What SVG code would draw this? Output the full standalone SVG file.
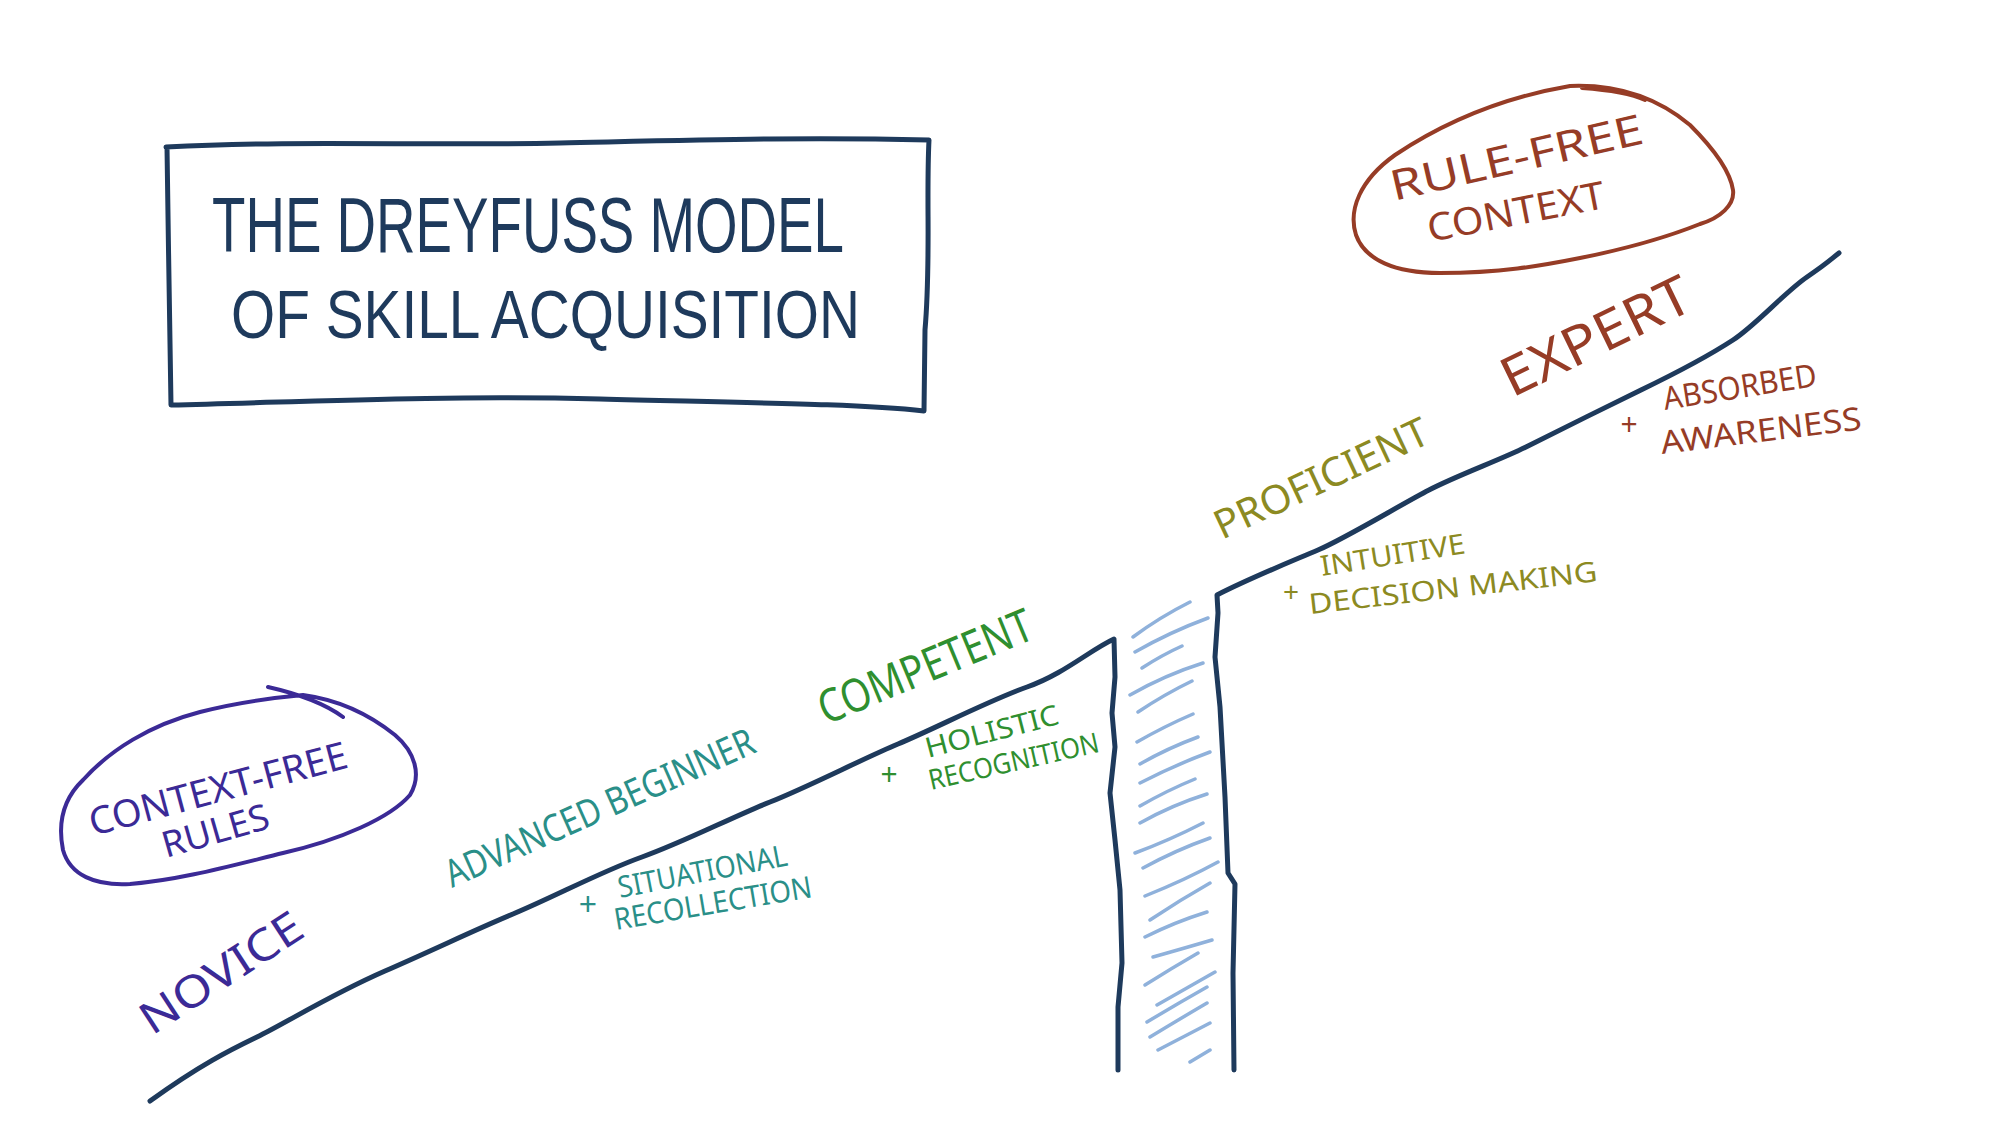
<svg xmlns="http://www.w3.org/2000/svg" width="2012" height="1144" viewBox="0 0 2012 1144">
<style>
.ink{fill:none;stroke:#1e3a5c;stroke-width:5;stroke-linecap:round;stroke-linejoin:round}
.hatch{fill:none;stroke:#8fb1db;stroke-width:3.5;stroke-linecap:round}
.t{font-family:"Noto Sans","Liberation Sans",sans-serif;text-transform:uppercase}
.tt{font-family:"Liberation Sans","Noto Sans",sans-serif}
.navy{fill:#1e3a5c}
.purple{fill:#3b2a96}
.teal{fill:#2a8f88}
.green{fill:#2f8f2f}
.olive{fill:#8c8a22}
.rust{fill:#963c26}
.loop{fill:none;stroke-width:4;stroke-linecap:round;stroke-linejoin:round}
</style>
<rect width="2012" height="1144" fill="#ffffff"/>

<g id="title">
  <path class="ink" d="M166,147 C300,140 420,146 560,143 S800,137 929,140 C926,200 931,260 925,330 L924,411 C860,404 760,403 600,399 S300,402 171,405 C170,330 168,230 167,147"/>
  <text class="tt navy" x="212" y="252" font-size="78" textLength="632" lengthAdjust="spacingAndGlyphs">THE DREYFUSS MODEL</text>
  <text class="tt navy" x="231" y="338" font-size="68" textLength="629" lengthAdjust="spacingAndGlyphs">OF SKILL ACQUISITION</text>
</g>

<g id="context-free-rules">
  <path class="loop" stroke="#3b2a96" d="M268,687 C290,692 320,700 343,717 M303,695 C340,700 370,715 395,735 C415,752 422,775 410,795 C390,818 340,840 283,853 C230,866 180,880 130,884 C95,886 70,875 63,850 C58,825 62,800 83,780 C110,750 150,725 200,712 C235,703 270,698 303,695"/>
  <text class="t purple" x="93" y="836" font-size="38" transform="rotate(-15 93 836)" textLength="266" lengthAdjust="spacingAndGlyphs">CONTEXT-FREE</text>
  <text class="t purple" x="166" y="858" font-size="36" transform="rotate(-16 166 858)" textLength="110" lengthAdjust="spacingAndGlyphs">RULES</text>
</g>

<g id="rule-free-context">
  <path class="loop" stroke="#963c26" d="M1582,88 C1610,90 1630,93 1645,100 M1570,86 C1620,84 1660,100 1690,125 C1710,145 1730,170 1733,190 C1735,205 1720,218 1700,224 C1660,240 1620,250 1580,258 C1540,266 1500,273 1440,273 C1395,273 1365,260 1356,235 C1348,210 1360,180 1395,155 C1440,125 1500,98 1570,86"/>
  <text class="t rust" x="1394" y="201" font-size="42" transform="rotate(-13 1394 201)" textLength="258" lengthAdjust="spacingAndGlyphs">RULE-FREE</text>
  <text class="t rust" x="1430" y="242" font-size="38" transform="rotate(-11 1430 242)" textLength="180" lengthAdjust="spacingAndGlyphs">CONTEXT</text>
</g>

<g id="connectors">
  <path class="ink" d="M150,1101 C200,1065 230,1050 257,1037 S330,995 385,971 S470,932 513,914 S600,872 642,857 S730,818 770,802 S860,760 898,744 S990,700 1027,687 S1090,650 1114,639 L1115,677 L1112,713 L1115,747 L1110,793 L1115,840 L1120,890 L1122,963 L1118,1007 L1118,1070"/>
  <path class="ink" d="M1234,1070 L1233,973 L1235,884 L1228,873 L1225,797 L1220,707 L1215,657 L1218,613 L1217,595 C1250,578 1290,562 1318,550 S1400,505 1429,490 S1500,460 1526,447 S1610,405 1641,390 S1710,355 1733,340 S1785,292 1807,277 S1830,260 1839,253"/>
  <g id="hatching">
    <path class="hatch" d="M1133,637 Q1160,617 1190,602 M1135,652 Q1170,632 1208,618 M1142,668 Q1162,655 1182,646 M1130,695 Q1165,675 1203,663 M1138,712 Q1165,694 1192,681 M1137,742 Q1165,726 1193,714 M1140,764 Q1168,748 1198,737 M1140,783 Q1175,765 1210,752 M1140,806 Q1168,790 1195,779 M1140,823 Q1172,805 1207,794 M1135,853 Q1170,840 1203,823 M1143,868 Q1176,850 1210,838 M1145,896 Q1185,880 1218,862 M1150,920 Q1180,900 1210,883 M1145,937 Q1175,922 1207,912 M1153,957 Q1185,948 1212,940 M1145,985 Q1172,968 1198,953 M1157,1005 Q1187,988 1215,972 M1147,1022 Q1177,1004 1207,987 M1150,1037 Q1178,1020 1207,1003 M1158,1050 Q1185,1036 1210,1023 M1190,1062 Q1200,1056 1210,1050"/>
  </g>
</g>

<g id="novice">
  <text class="t purple" x="152" y="1036" font-size="44" transform="rotate(-33 152 1036)" textLength="185" lengthAdjust="spacingAndGlyphs">NOVICE</text>
</g>

<g id="advanced-beginner">
  <text class="t teal" x="452" y="888" font-size="38" transform="rotate(-24 452 888)" textLength="335" lengthAdjust="spacingAndGlyphs">ADVANCED BEGINNER</text>
  <text class="t teal" x="588" y="916" font-size="32" text-anchor="middle">+</text>
  <text class="t teal" x="620" y="898" font-size="30" transform="rotate(-11 620 898)" textLength="172" lengthAdjust="spacingAndGlyphs">SITUATIONAL</text>
  <text class="t teal" x="616" y="930" font-size="30" transform="rotate(-9.5 616 930)" textLength="200" lengthAdjust="spacingAndGlyphs">RECOLLECTION</text>
</g>

<g id="competent">
  <text class="t green" x="826" y="725" font-size="46" transform="rotate(-22.5 826 725)" textLength="228" lengthAdjust="spacingAndGlyphs">COMPETENT</text>
  <text class="t green" x="889" y="785" font-size="30" text-anchor="middle">+</text>
  <text class="t green" x="928" y="758" font-size="28" transform="rotate(-14.5 928 758)" textLength="137" lengthAdjust="spacingAndGlyphs">HOLISTIC</text>
  <text class="t green" x="931" y="790" font-size="28" transform="rotate(-12.7 931 790)" textLength="174" lengthAdjust="spacingAndGlyphs">RECOGNITION</text>
</g>

<g id="proficient">
  <text class="t olive" x="1222" y="540" font-size="40" transform="rotate(-25 1222 540)" textLength="232" lengthAdjust="spacingAndGlyphs">PROFICIENT</text>
  <text class="t olive" x="1291" y="602" font-size="28" text-anchor="middle">+</text>
  <text class="t olive" x="1322" y="576" font-size="28" transform="rotate(-9 1322 576)" textLength="146" lengthAdjust="spacingAndGlyphs">INTUITIVE</text>
  <text class="t olive" x="1310" y="614" font-size="28" transform="rotate(-6.5 1310 614)" textLength="290" lengthAdjust="spacingAndGlyphs">DECISION MAKING</text>
</g>

<g id="expert">
  <text class="t rust" x="1512" y="398" font-size="54" transform="rotate(-26 1512 398)" textLength="205" lengthAdjust="spacingAndGlyphs">EXPERT</text>
  <text class="t rust" x="1629" y="435" font-size="30" text-anchor="middle">+</text>
  <text class="t rust" x="1665" y="410" font-size="32" transform="rotate(-9 1665 410)" textLength="155" lengthAdjust="spacingAndGlyphs">ABSORBED</text>
  <text class="t rust" x="1662" y="454" font-size="32" transform="rotate(-7 1662 454)" textLength="202" lengthAdjust="spacingAndGlyphs">AWARENESS</text>
</g>
</svg>
